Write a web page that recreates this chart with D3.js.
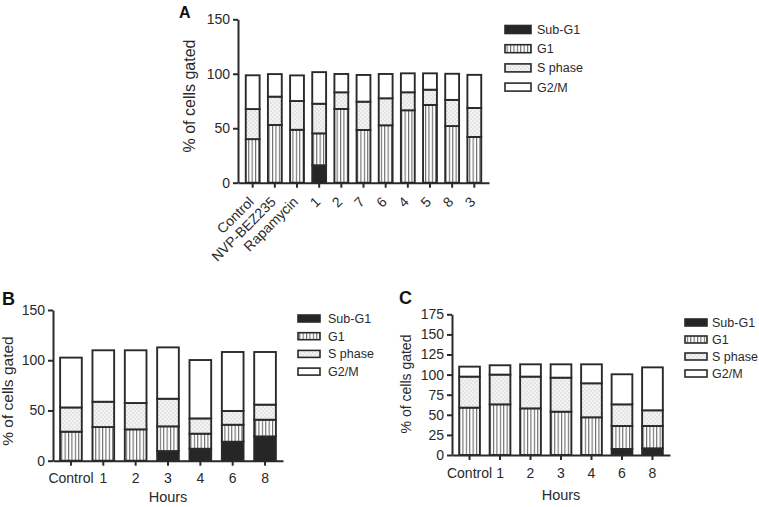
<!DOCTYPE html>
<html><head><meta charset="utf-8">
<script src="https://cdn.jsdelivr.net/npm/d3@7"></script>
<style>
body{margin:0;background:#fff;}
svg{display:block;font-family:"Liberation Sans",Arial,Helvetica,sans-serif;}
</style></head>
<body>
<svg id="chart" width="759" height="507"></svg>
<script>
// ---------- data ----------
const keys = ["Sub-G1", "G1", "S phase", "G2/M"];

const catsA = ["Control", "NVP-BEZ235", "Rapamycin", "1", "2", "7", "6", "4", "5", "8", "3"];
const subG1A = [0, 0, 0, 16, 0, 0, 0, 0, 0, 0, 0];
const g1A    = [40, 53, 48.6, 29.3, 67.7, 48.4, 52.7, 66.5, 71.4, 52, 42];
const sA     = [27.6, 26, 26.4, 27.2, 15.3, 26, 24.8, 16.5, 14, 24, 26.6];
const g2mA   = [31, 20.7, 23.5, 29, 16.8, 24.5, 22.3, 17.4, 15, 24, 30.4];
const ticksA = [0, 50, 100, 150];

const catsB = ["Control", "1", "2", "3", "4", "6", "8"];
const subG1B = [0, 0, 0, 9.6, 11.9, 18.9, 24.2];
const g1B    = [28.9, 33.5, 31.2, 24.6, 15, 16.9, 16.6];
const sB     = [24.1, 25.2, 26.2, 27.5, 15.2, 13.7, 15];
const g2mB   = [49.6, 51.2, 52.5, 51.1, 58.1, 58.7, 52.4];
const ticksB = [0, 50, 100, 150];

const catsC = ["Control", "1", "2", "3", "4", "6", "8"];
const subG1C = [0, 0, 0, 0, 0, 7.5, 8.3];
const g1C    = [58.9, 63, 58, 53.9, 46.9, 28.6, 27.8];
const sC     = [38.6, 37, 39.5, 42.3, 42.3, 26.9, 19.5];
const g2mC   = [12.4, 11.6, 15.3, 16.6, 23.6, 37.4, 53.4];
const ticksC = [0, 25, 50, 75, 100, 125, 150, 175];

// ---------- drawing ----------
const svg = d3.select("#chart");
const ink = "#2a2a2a";

const defs = svg.append("defs");
const pG1 = defs.append("pattern").attr("id", "pG1").attr("patternUnits", "userSpaceOnUse")
  .attr("width", 3.4).attr("height", 10);
pG1.append("rect").attr("width", 3.4).attr("height", 10).attr("fill", "#fff");
pG1.append("rect").attr("x", 0).attr("width", 1.1).attr("height", 10).attr("fill", "#6a6a6a");
const pS = defs.append("pattern").attr("id", "pS").attr("patternUnits", "userSpaceOnUse")
  .attr("width", 4).attr("height", 4);
pS.append("rect").attr("width", 4).attr("height", 4).attr("fill", "#f3f3f3");
pS.append("rect").attr("x", 0.5).attr("y", 0.5).attr("width", 1).attr("height", 1).attr("fill", "#b8b8b8");
pS.append("rect").attr("x", 2.5).attr("y", 2.5).attr("width", 1).attr("height", 1).attr("fill", "#b8b8b8");

const fills = {"Sub-G1": "#262626", "G1": "url(#pG1)", "S phase": "url(#pS)", "G2/M": "#fff"};

function panel(cfg) {
  const rows = cfg.cats.map((c, i) => ({cat: c, "Sub-G1": cfg.sub[i], "G1": cfg.g1[i], "S phase": cfg.s[i], "G2/M": cfg.g2m[i]}));
  const stack = d3.stack().keys(keys)(rows);
  const x = d3.scaleBand().domain(cfg.cats).range(cfg.xr).paddingInner(cfg.pi).paddingOuter(cfg.po);
  const y = d3.scaleLinear().domain([0, cfg.ymax]).range(cfg.yr);
  const g = svg.append("g");

  // bars
  stack.forEach(layer => {
    g.append("g").selectAll("rect").data(layer).join("rect")
      .attr("x", d => x(d.data.cat))
      .attr("width", x.bandwidth())
      .attr("y", d => y(d[1]))
      .attr("height", d => Math.max(0, y(d[0]) - y(d[1])))
      .attr("fill", fills[layer.key])
      .attr("stroke", d => (d[1] - d[0]) > 0 ? ink : "none")
      .attr("stroke-width", 1.9);
  });

  // y axis
  const ya = g.append("g").attr("transform", `translate(${cfg.xr[0]},0)`)
    .call(d3.axisLeft(y).tickValues(cfg.ticks).tickSize(5).tickPadding(3).tickSizeOuter(0));
  ya.select(".domain").attr("stroke", ink).attr("stroke-width", 2);
  ya.selectAll(".tick line").attr("stroke", ink).attr("stroke-width", 2);
  ya.selectAll(".tick text").attr("fill", ink).style("font-size", "14px")
    .style("font-family", "Liberation Sans, Arial, sans-serif");

  // x axis
  const xa = g.append("g").attr("transform", `translate(0,${cfg.yr[0]})`)
    .call(d3.axisBottom(x).tickSize(5).tickPadding(cfg.xpad).tickSizeOuter(0));
  xa.select(".domain").attr("stroke", ink).attr("stroke-width", 2);
  xa.selectAll(".tick line").attr("stroke", ink).attr("stroke-width", 2);
  const xt = xa.selectAll(".tick text").attr("fill", ink).style("font-size", "14px")
    .style("font-family", "Liberation Sans, Arial, sans-serif");
  if (cfg.rotate) {
    xt.attr("x", 0).attr("y", 0).attr("dy", 0)
      .attr("transform", "translate(2,20) rotate(-45)")
      .style("text-anchor", "end");
  }

  // y label
  g.append("text")
    .attr("transform", `translate(${cfg.ylab[0]},${cfg.ylab[1]}) rotate(-90)`)
    .attr("text-anchor", "middle").attr("fill", ink)
    .style("font-size", cfg.ylabSize + "px")
    .text("% of cells gated");

  // x label
  if (cfg.xlab) {
    g.append("text").attr("x", (cfg.xr[0] + cfg.xr[1]) / 2).attr("y", cfg.xlab)
      .attr("text-anchor", "middle").attr("fill", ink).style("font-size", "14.5px")
      .text("Hours");
  }

  // panel letter
  g.append("text").attr("x", cfg.letter[0]).attr("y", cfg.letter[1])
    .attr("fill", "#111").style("font-size", cfg.letter[2] + "px").style("font-weight", "bold")
    .text(cfg.name);

  // legend
  const L = cfg.legend;
  const lg = g.append("g");
  keys.forEach((k, i) => {
    const cy = L.y0 + i * L.dy;
    lg.append("rect").attr("x", L.x).attr("y", cy - L.h / 2).attr("width", L.w).attr("height", L.h)
      .attr("fill", fills[k]).attr("stroke", ink).attr("stroke-width", 1.6);
    lg.append("text").attr("x", L.tx).attr("y", cy).attr("dy", "0.36em")
      .attr("fill", ink).style("font-size", "12.5px").text(k);
  });
}

panel({name: "A", cats: catsA, sub: subG1A, g1: g1A, s: sA, g2m: g2mA, ticks: ticksA, ymax: 150,
  xr: [238, 489], yr: [182.7, 19.3], pi: 0.375, po: 0.35, xpad: 3, rotate: true,
  ylab: [194.5, 96], ylabSize: 16, xlab: null, letter: [179, 18, 16],
  legend: {x: 505, w: 26, h: 8, y0: 29.5, dy: 19.2, tx: 537}});

panel({name: "B", cats: catsB, sub: subG1B, g1: g1B, s: sB, g2m: g2mB, ticks: ticksB, ymax: 150,
  xr: [53, 283], yr: [460.7, 310], pi: 0.33, po: 0.22, xpad: 7,
  ylab: [13, 391], ylabSize: 15.5, xlab: 502, letter: [2, 305, 18],
  legend: {x: 298, w: 22, h: 7, y0: 318.5, dy: 17.7, tx: 328}});

panel({name: "C", cats: catsC, sub: subG1C, g1: g1C, s: sC, g2m: g2mC, ticks: ticksC, ymax: 175,
  xr: [452, 670], yr: [455, 314.3], pi: 0.32, po: 0.235, xpad: 8,
  ylab: [411, 384], ylabSize: 14, xlab: 500, letter: [399, 304, 18],
  legend: {x: 685, w: 22, h: 7, y0: 322.5, dy: 17, tx: 712}});
</script>
</body></html>
